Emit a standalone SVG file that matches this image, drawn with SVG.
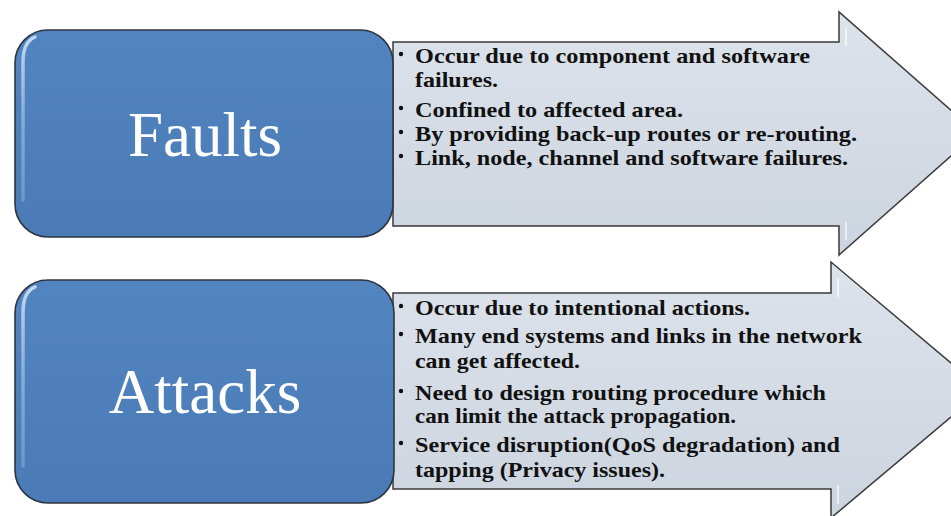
<svg xmlns="http://www.w3.org/2000/svg" width="951" height="516" viewBox="0 0 951 516">
  <defs>
    <linearGradient id="arrowFill" x1="0" y1="0" x2="0" y2="1">
      <stop offset="0" stop-color="#DDE3EB"/>
      <stop offset="1" stop-color="#CCD4DF"/>
    </linearGradient>
    <linearGradient id="boxFill" x1="0" y1="0" x2="0" y2="1">
      <stop offset="0" stop-color="#5284C0"/>
      <stop offset="1" stop-color="#4A7BB7"/>
    </linearGradient>
    <linearGradient id="hl" x1="0" y1="0" x2="0" y2="1">
      <stop offset="0" stop-color="#C9DDF5" stop-opacity="0.95"/>
      <stop offset="0.5" stop-color="#9DBDE4" stop-opacity="0.7"/>
      <stop offset="1" stop-color="#8FB2DD" stop-opacity="0.5"/>
    </linearGradient>
  </defs>
  <style>
    .arrow { fill: url(#arrowFill); stroke: #3A3A3A; stroke-width: 1.5; stroke-linejoin: miter; }
    .box { fill: url(#boxFill); stroke: #2E3440; stroke-width: 1.6; }
    .hl { fill: none; stroke: url(#hl); stroke-width: 3.5; stroke-linecap: round; }
    .title { font-size: 63px; fill: #FFFFFF; text-anchor: middle; }
    .item { font-size: 22px; font-weight: 700; fill: #111111; }
    .bul { fill: #111111; }
  </style>
  <rect width="951" height="516" fill="#FFFFFF"/>

  <g id="faults-arrow" font-family="'Liberation Serif', Tinos, 'Times New Roman', Times, serif">
    <path class="arrow" d="M393,42 L839,42 L839,12 L977,133 L839,255 L839,226 L393,226 Z"/>
    <path d="M846,28 L846,46 M846,222 L846,240" stroke="#FFFFFF" stroke-opacity="0.6" stroke-width="2" fill="none"/>
    <circle class="bul" cx="401" cy="54" r="2.2"/>
    <text class="item" x="415" y="63" textLength="395" lengthAdjust="spacingAndGlyphs">Occur due to component and software</text>
    <text class="item" x="415" y="87" textLength="83" lengthAdjust="spacingAndGlyphs">failures.</text>
    <circle class="bul" cx="401" cy="108" r="2.2"/>
    <text class="item" x="415" y="117" textLength="268" lengthAdjust="spacingAndGlyphs">Confined to affected area.</text>
    <circle class="bul" cx="401" cy="132" r="2.2"/>
    <text class="item" x="415" y="141" textLength="442" lengthAdjust="spacingAndGlyphs">By providing back-up routes or re-routing.</text>
    <circle class="bul" cx="401" cy="156" r="2.2"/>
    <text class="item" x="415" y="165" textLength="433" lengthAdjust="spacingAndGlyphs">Link, node, channel and software failures.</text>
  </g>

  <g id="faults" font-family="'Liberation Serif', Tinos, 'Times New Roman', Times, serif">
    <rect class="box" x="15" y="30" width="378" height="207" rx="33" ry="33"/>
    <path class="hl" d="M23,200 L23,62 Q23,42 35,37"/>
    <path class="hl" d="M385,62 L385,205" stroke-opacity="0.7"/>
    <text class="title" x="205" y="156">Faults</text>
  </g>

  <g id="attacks-arrow" font-family="'Liberation Serif', Tinos, 'Times New Roman', Times, serif">
    <path class="arrow" d="M393,293 L831,293 L831,262 L983,390 L831,518 L831,489 L393,489 Z"/>
    <path d="M838,278 L838,297 M838,485 L838,504" stroke="#FFFFFF" stroke-opacity="0.6" stroke-width="2" fill="none"/>
    <circle class="bul" cx="401" cy="306" r="2.2"/>
    <text class="item" x="415" y="315" textLength="335" lengthAdjust="spacingAndGlyphs">Occur due to intentional actions.</text>
    <circle class="bul" cx="401" cy="334" r="2.2"/>
    <text class="item" x="415" y="343" textLength="447" lengthAdjust="spacingAndGlyphs">Many end systems and links in the network</text>
    <text class="item" x="415" y="368" textLength="165" lengthAdjust="spacingAndGlyphs">can get affected.</text>
    <circle class="bul" cx="401" cy="391" r="2.2"/>
    <text class="item" x="415" y="400" textLength="411" lengthAdjust="spacingAndGlyphs">Need to design routing procedure which</text>
    <text class="item" x="415" y="423" textLength="321" lengthAdjust="spacingAndGlyphs">can limit the attack propagation.</text>
    <circle class="bul" cx="401" cy="443" r="2.2"/>
    <text class="item" x="415" y="452" textLength="425" lengthAdjust="spacingAndGlyphs">Service disruption(QoS degradation) and</text>
    <text class="item" x="415" y="477" textLength="250" lengthAdjust="spacingAndGlyphs">tapping (Privacy issues).</text>
  </g>

  <g id="attacks" font-family="'Liberation Serif', Tinos, 'Times New Roman', Times, serif">
    <rect class="box" x="15" y="280" width="379" height="223" rx="33" ry="33"/>
    <path class="hl" d="M23,466 L23,312 Q23,292 35,287"/>
    <path class="hl" d="M386,312 L386,470" stroke-opacity="0.7"/>
    <text class="title" x="205" y="413">Attacks</text>
  </g>
</svg>
